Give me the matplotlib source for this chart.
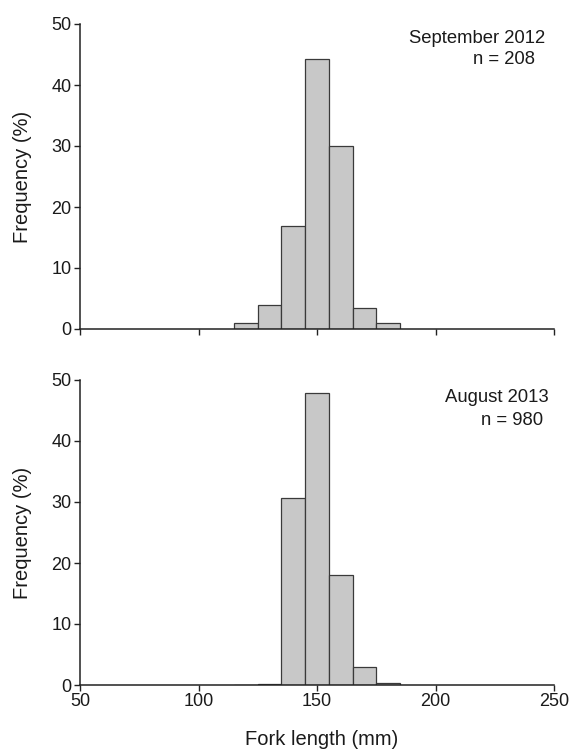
import matplotlib
matplotlib.use("Agg")
import matplotlib.pyplot as plt

# Data: fork length bins (centers, mm) and frequency (%)
bin_centers = [120, 130, 140, 150, 160, 170, 180]
sep2012_freq = [1.0, 3.9, 16.9, 44.3, 30.0, 3.4, 1.0]
aug2013_freq = [0.0, 0.2, 30.7, 47.8, 18.0, 2.9, 0.4]
x_ticks = [50, 100, 150, 200, 250]
y_ticks = [0, 10, 20, 30, 40, 50]
panels = [("September 2012", "n = 208"), ("August 2013", "n = 980")]

plt.rcParams['font.family'] = ['Liberation Sans', 'DejaVu Sans']

W, H = 573, 749
fig = plt.figure(figsize=(W / 100, H / 100), dpi=100)

left = 80 / W
width = 474 / W
height = 305 / H
ax_top = fig.add_axes([left, 1 - 329 / H, width, height])
ax_bot = fig.add_axes([left, 1 - 685 / H, width, height])

bar_face = "#c8c8c8"
bar_edge = "#3a3a3a"
axis_col = "#222222"
txt_col = "#1a1a1a"

for ax, freq, show_xlabels in [
    (ax_top, sep2012_freq, False),
    (ax_bot, aug2013_freq, True),
]:
    ax.bar(bin_centers, freq, width=10, color=bar_face, edgecolor=bar_edge,
           linewidth=0.9, align="center", zorder=2)
    ax.set_xlim(50, 250)
    ax.set_ylim(0, 50)
    ax.set_xticks(x_ticks)
    ax.set_yticks(y_ticks)
    for s in ["top", "right"]:
        ax.spines[s].set_visible(False)
    for s in ["left", "bottom"]:
        ax.spines[s].set_color(axis_col)
        ax.spines[s].set_linewidth(1.1)
        ax.spines[s].set_zorder(3)
    ax.tick_params(direction="out", length=4, width=1.0, colors=axis_col,
                   labelsize=13, labelcolor=txt_col, pad=2)
    if not show_xlabels:
        ax.tick_params(axis="x", labelbottom=False)
    ax.set_ylabel("Frequency (%)", fontsize=14.5, color=txt_col)
    ax.yaxis.set_label_coords(-0.101, 0.5)

ax_top.text(0.981, 0.954, panels[0][0], transform=ax_top.transAxes,
            ha="right", va="center", fontsize=13.3, color=txt_col)
ax_top.text(0.960, 0.882, panels[0][1], transform=ax_top.transAxes,
            ha="right", va="center", fontsize=13.3, color=txt_col)
ax_bot.text(0.989, 0.941, panels[1][0], transform=ax_bot.transAxes,
            ha="right", va="center", fontsize=13.3, color=txt_col)
ax_bot.text(0.977, 0.866, panels[1][1], transform=ax_bot.transAxes,
            ha="right", va="center", fontsize=13.3, color=txt_col)

ax_bot.set_xlabel("Fork length (mm)", fontsize=14.5, color=txt_col)
ax_bot.xaxis.set_label_coords(0.509, -0.148)

fig.savefig("out.png", dpi=100, facecolor="white")
